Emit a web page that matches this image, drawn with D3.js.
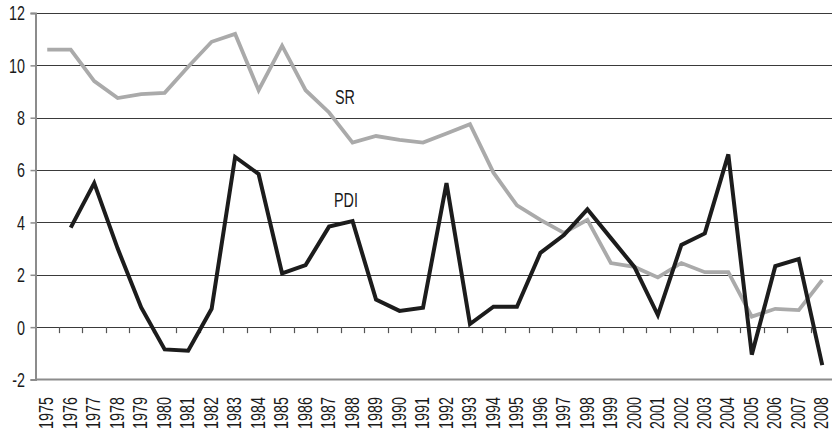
<!DOCTYPE html>
<html>
<head>
<meta charset="utf-8">
<script src="https://cdn.jsdelivr.net/npm/d3@7"></script>
<style>
  html, body { margin: 0; padding: 0; background: #fff; }
  svg { display: block; }
  text { font-family: "Liberation Sans", Arial, sans-serif; fill: #1a1a1a; font-size: 20.5px; }
</style>
</head>
<body>
<div id="chart"></div>
<script>
const years = ["1975","1976","1977","1978","1979","1980","1981","1982","1983","1984",
  "1985","1986","1987","1988","1989","1990","1991","1992","1993","1994","1995","1996",
  "1997","1998","1999","2000","2001","2002","2003","2004","2005","2006","2007","2008"];

// SR covers every year
const srValues = [10.6, 10.6, 9.4, 8.75, 8.9, 8.95, 9.95, 10.9, 11.2, 9.05,
  10.75, 9.05, 8.2, 7.05, 7.3, 7.15, 7.05, 7.4, 7.75, 5.9, 4.65, 4.1,
  3.6, 4.1, 2.45, 2.3, 1.9, 2.45, 2.1, 2.1, 0.4, 0.7, 0.65, 1.8];

// PDI starts in 1976
const pdiValues = [null, 3.8, 5.5, 3.0, 0.75, -0.85, -0.9, 0.7, 6.5, 5.85,
  2.05, 2.37, 3.84, 4.05, 1.05, 0.62, 0.74, 5.5, 0.12, 0.78, 0.78, 2.84,
  3.52, 4.5, 3.4, 2.3, 0.46, 3.14, 3.58, 6.6, -1.05, 2.33, 2.6, -1.45];

const yTicks = [-2, 0, 2, 4, 6, 8, 10, 12];

const W = 832, H = 434;
const plotLeft = 35.5, plotBottom = 379.5, plotTop = 13;
const squeeze = 0.7; // narrow the Arial-like glyphs to a condensed look

const svg = d3.select("#chart").append("svg")
  .attr("width", W)
  .attr("height", H);

const x = d3.scaleBand().domain(years).range([plotLeft, 834]).padding(0);
const y = d3.scaleLinear().domain([-2, 12]).range([plotBottom, plotTop]);
const cx = d => x(d) + x.bandwidth() / 2;

// gridlines
svg.append("g")
  .selectAll("line")
  .data(yTicks.filter(t => t !== -2))
  .enter().append("line")
  .attr("x1", plotLeft).attr("x2", W)
  .attr("y1", d => Math.round(y(d)) + 0.5).attr("y2", d => Math.round(y(d)) + 0.5)
  .attr("stroke", "#3a3a3a")
  .attr("stroke-width", 1);

// bottom frame line at -2
svg.append("line")
  .attr("x1", plotLeft).attr("x2", W)
  .attr("y1", y(-2)).attr("y2", y(-2))
  .attr("stroke", "#8c8c8c")
  .attr("stroke-width", 2);

// left axis with outward ticks, labels drawn separately
const yAxis = svg.append("g")
  .attr("transform", `translate(${plotLeft},0)`)
  .call(d3.axisLeft(y).tickValues(yTicks).tickSize(5).tickFormat(""));
yAxis.select(".domain").attr("stroke", "#8c8c8c").attr("stroke-width", 2);
yAxis.selectAll(".tick line").attr("stroke", "#8c8c8c").attr("stroke-width", 1.5);

svg.append("g")
  .selectAll("text")
  .data(yTicks)
  .enter().append("text")
  .attr("transform", d => `translate(25,${y(d)}) scale(${squeeze},1)`)
  .attr("dy", "0.36em")
  .attr("text-anchor", "end")
  .text(d => String(d));

// category ticks hanging from the zero line
svg.append("g")
  .selectAll("line")
  .data(years.slice(1))
  .enter().append("line")
  .attr("x1", d => Math.round(x(d)) + 0.5).attr("x2", d => Math.round(x(d)) + 0.5)
  .attr("y1", y(0)).attr("y2", y(0) + 6)
  .attr("stroke", "#555")
  .attr("stroke-width", 1.2);

// year labels, rotated
svg.append("g")
  .selectAll("text")
  .data(years)
  .enter().append("text")
  .attr("transform", d => `translate(${cx(d)},397) rotate(-90) scale(${squeeze},1)`)
  .attr("dy", "0.3em")
  .attr("text-anchor", "end")
  .text(d => d);

// lines
const line = d3.line()
  .defined(d => d[1] != null)
  .x(d => cx(d[0]))
  .y(d => y(d[1]));

svg.append("path")
  .datum(years.map((yr, i) => [yr, srValues[i]]))
  .attr("d", line)
  .attr("fill", "none")
  .attr("stroke", "#aaaaaa")
  .attr("stroke-width", 3.8);

svg.append("path")
  .datum(years.map((yr, i) => [yr, pdiValues[i]]))
  .attr("d", line)
  .attr("fill", "none")
  .attr("stroke", "#1c1c1c")
  .attr("stroke-width", 4);

// series labels
svg.append("text").attr("transform", `translate(335,104) scale(${squeeze},1)`).text("SR");
svg.append("text").attr("transform", `translate(334,207) scale(${squeeze},1)`).text("PDI");
</script>
</body>
</html>
